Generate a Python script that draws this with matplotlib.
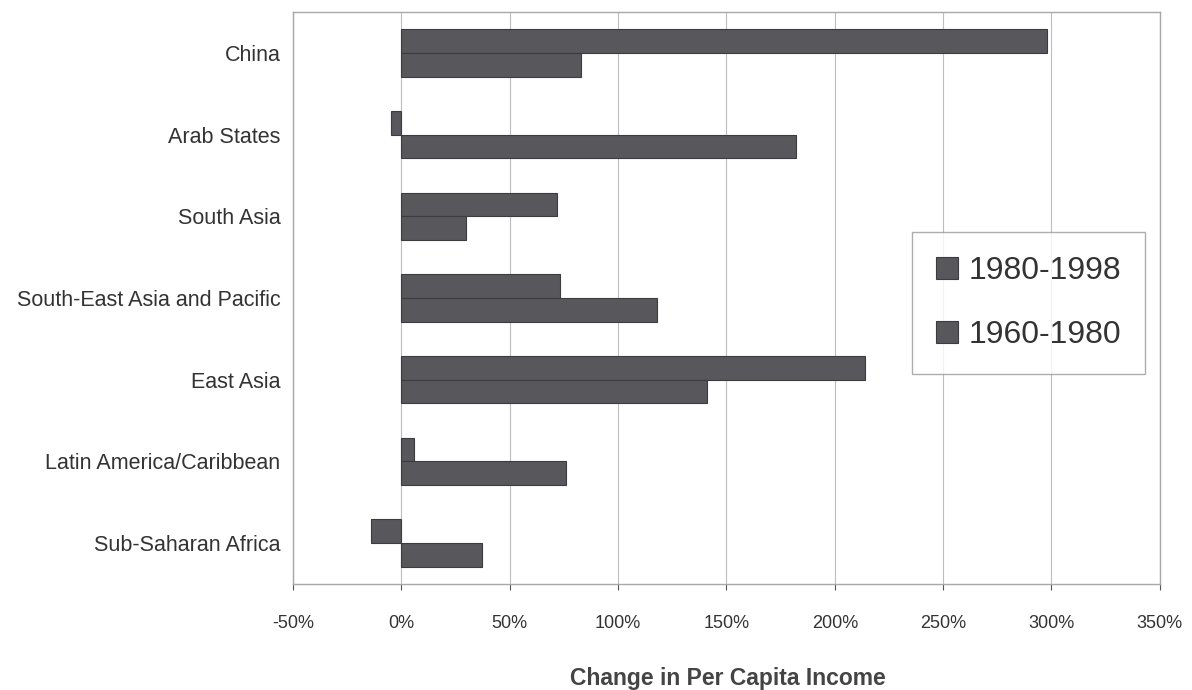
import numpy as np
import matplotlib
matplotlib.use("Agg")
import matplotlib.pyplot as plt
from matplotlib.ticker import FuncFormatter

# data (percent change)
regions = ["China", "Arab States", "South Asia", "South-East Asia and Pacific",
           "East Asia", "Latin America/Caribbean", "Sub-Saharan Africa"]
change_80_98 = [298, -5, 72, 73, 214, 6, -14]
change_60_80 = [83, 182, 30, 118, 141, 76, 37]
series_names = ["1980-1998", "1960-1980"]
x_ticks = [-50, 0, 50, 100, 150, 200, 250, 300, 350]

plt.rcParams["font.family"] = ["Liberation Sans", "DejaVu Sans"]

fig = plt.figure(figsize=(11.92, 6.9), dpi=100)
ax = fig.add_axes([0.2458, 0.1536, 0.7272, 0.829])

bar_col = "#58585c"
h = 0.29
pos = np.arange(len(regions))
ax.barh(pos - h / 2, change_80_98, height=h, color=bar_col, edgecolor="#3c3c40",
        linewidth=0.8, label=series_names[0], zorder=3)
ax.barh(pos + h / 2, change_60_80, height=h, color=bar_col, edgecolor="#3c3c40",
        linewidth=0.8, label=series_names[1], zorder=3)

ax.set_xlim(-50, 350)
ax.set_ylim(len(regions) - 0.5, -0.5)
ax.set_xticks(x_ticks)
ax.xaxis.set_major_formatter(FuncFormatter(lambda v, p: f"{v:.0f}%"))
ax.set_yticks(pos)
ax.set_yticklabels(regions, fontsize=15.5, color="#333333")
ax.tick_params(axis="y", length=0, pad=9)
ax.tick_params(axis="x", labelsize=13, colors="#555555", length=4, pad=18,
               labelcolor="#333333")

ax.grid(axis="x", color="#bdbdbd", linewidth=0.8, zorder=0)
for s in ax.spines.values():
    s.set_color("#a8a8a8")
    s.set_linewidth(1.0)

# axis title sits near the bottom edge of the figure
fig.text(0.611, 0.016, "Change in Per Capita Income", fontsize=16.5, fontweight="bold",
         color="#444444", ha="center", va="center")

leg = ax.legend(loc="upper left", bbox_to_anchor=(0.714, 0.615), fontsize=23,
                frameon=True, fancybox=False, edgecolor="#999999",
                handlelength=0.7, handleheight=0.7, handletextpad=0.33,
                labelspacing=1.08, borderpad=0.74, borderaxespad=0)
leg.get_frame().set_linewidth(1.0)
for t in leg.get_texts():
    t.set_color("#333333")

fig.savefig("out.png", dpi=100)
